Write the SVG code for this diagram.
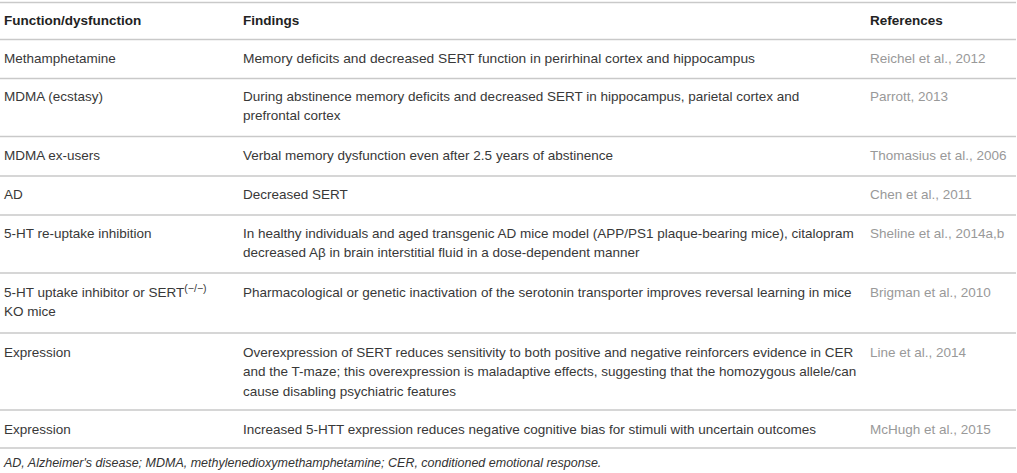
<svg xmlns="http://www.w3.org/2000/svg" width="1017" height="473" viewBox="0 0 1017 473">
<style>
text{font-family:"Liberation Sans",Arial,sans-serif;font-size:13.5px;fill:#383838}
.h{font-weight:bold;fill:#222}
.r{fill:#999}
.f{font-style:italic;font-size:12.5px;fill:#333}
.ln{stroke:#c9c9c9;stroke-width:1.6}
</style>
<rect width="1017" height="473" fill="#fff"/>
<g id="rules">
<line class="ln" x1="0" y1="2.5" x2="1016" y2="2.5"/>
<line class="ln" x1="0" y1="39.5" x2="1016" y2="39.5"/>
<line class="ln" x1="0" y1="78.5" x2="1016" y2="78.5"/>
<line class="ln" x1="0" y1="136.5" x2="1016" y2="136.5"/>
<line class="ln" x1="0" y1="176" x2="1016" y2="176"/>
<line class="ln" x1="0" y1="215" x2="1016" y2="215"/>
<line class="ln" x1="0" y1="273" x2="1016" y2="273"/>
<line class="ln" x1="0" y1="333" x2="1016" y2="333"/>
<line class="ln" x1="0" y1="410" x2="1016" y2="410"/>
<line class="ln" x1="0" y1="448" x2="1016" y2="448"/>
</g>
<g id="header">
<text class="h" x="4" y="25">Function/dysfunction</text>
<text class="h" x="243" y="25">Findings</text>
<text class="h" x="870" y="25">References</text>
</g>
<g id="row1">
<text x="4" y="62.5">Methamphetamine</text>
<text x="243" y="62.5" textLength="512" lengthAdjust="spacingAndGlyphs">Memory deficits and decreased SERT function in perirhinal cortex and hippocampus</text>
<text class="r" x="870" y="62.5">Reichel et al., 2012</text>
</g>
<g id="row2">
<text x="4" y="100.5">MDMA (ecstasy)</text>
<text x="243" y="100.5">During abstinence memory deficits and decreased SERT in hippocampus, parietal cortex and</text>
<text x="243" y="120">prefrontal cortex</text>
<text class="r" x="870" y="100.5">Parrott, 2013</text>
</g>
<g id="row3">
<text x="4" y="159.5">MDMA ex-users</text>
<text x="243" y="159.5">Verbal memory dysfunction even after 2.5 years of abstinence</text>
<text class="r" x="870" y="159.5">Thomasius et al., 2006</text>
</g>
<g id="row4">
<text x="4" y="198.5">AD</text>
<text x="243" y="198.5">Decreased SERT</text>
<text class="r" x="870" y="198.5">Chen et al., 2011</text>
</g>
<g id="row5">
<text x="4" y="237.5">5-HT re-uptake inhibition</text>
<text x="243" y="237.5">In healthy individuals and aged transgenic AD mice model (APP/PS1 plaque-bearing mice), citalopram</text>
<text x="243" y="257">decreased Aβ in brain interstitial fluid in a dose-dependent manner</text>
<text class="r" x="870" y="237.5">Sheline et al., 2014a,b</text>
</g>
<g id="row6">
<text x="4" y="296.5">5-HT uptake inhibitor or SERT<tspan font-size="10.5" dy="-5">(−/−)</tspan></text>
<text x="4" y="316">KO mice</text>
<text x="243" y="296.5">Pharmacological or genetic inactivation of the serotonin transporter improves reversal learning in mice</text>
<text class="r" x="870" y="296.5">Brigman et al., 2010</text>
</g>
<g id="row7">
<text x="4" y="356.5">Expression</text>
<text x="243" y="356.5">Overexpression of SERT reduces sensitivity to both positive and negative reinforcers evidence in CER</text>
<text x="243" y="376">and the T-maze; this overexpression is maladaptive effects, suggesting that the homozygous allele/can</text>
<text x="243" y="395.5">cause disabling psychiatric features</text>
<text class="r" x="870" y="356.5">Line et al., 2014</text>
</g>
<g id="row8">
<text x="4" y="433.5">Expression</text>
<text x="243" y="433.5">Increased 5-HTT expression reduces negative cognitive bias for stimuli with uncertain outcomes</text>
<text class="r" x="870" y="433.5">McHugh et al., 2015</text>
</g>
<g id="footnote">
<text class="f" x="4" y="466.5">AD, Alzheimer's disease; MDMA, methylenedioxymethamphetamine; CER, conditioned emotional response.</text>
</g>
</svg>
